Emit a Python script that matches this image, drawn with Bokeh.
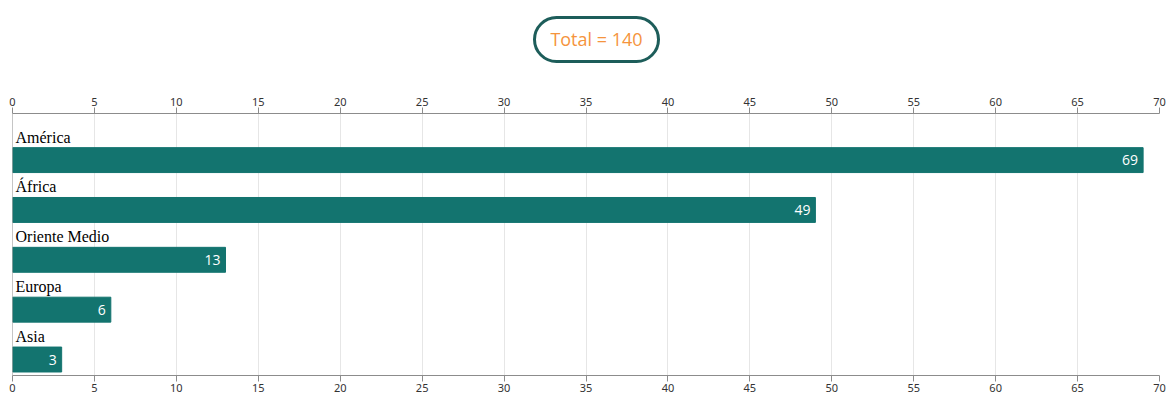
from bokeh.plotting import figure
from bokeh.models import ColumnDataSource, FactorRange, Range1d, LinearAxis, SingleIntervalTicker, Span, Div
from bokeh.transform import dodge
from bokeh.layouts import column
from bokeh.core.properties import value
from bokeh.embed import file_html
from bokeh.resources import INLINE

# ---- data ----
regions = ["América", "África", "Oriente Medio", "Europa", "Asia"]
counts = [69, 49, 13, 6, 3]
total_text = f"Total = {sum(counts)}"

BAR = "#13746f"
AXIS = "#8c8c8c"
GRID = "#e6e6e6"

source = ColumnDataSource(dict(region=regions, count=counts, label=[str(c) for c in counts]))

p = figure(
    y_range=FactorRange(factors=regions[::-1], range_padding=0.1275, range_padding_units="absolute"),
    x_range=Range1d(0, 70),
    frame_width=1147, frame_height=262,
    min_border_left=12, min_border_right=8, min_border_top=0, min_border_bottom=0,
    x_axis_location="above",
    output_backend="svg", toolbar_location=None,
)
p.outline_line_color = None
p.background_fill_color = "white"
p.border_fill_color = "white"

p.add_layout(LinearAxis(), "below")
for ax in p.xaxis:
    ax.ticker = SingleIntervalTicker(interval=5, num_minor_ticks=0)
    ax.axis_line_color = AXIS
    ax.major_tick_line_color = AXIS
    ax.major_tick_in = 0
    ax.major_tick_out = 6
    ax.minor_tick_line_color = None
    ax.major_label_standoff = 2
    ax.major_label_text_font = "Noto Sans"
    ax.major_label_text_font_size = "11px"
    ax.major_label_text_color = "#333333"

p.yaxis.visible = False
p.ygrid.visible = False
p.xgrid.ticker = SingleIntervalTicker(interval=5, num_minor_ticks=0)
p.xgrid.grid_line_color = GRID

p.add_layout(Span(location=0, dimension="height", line_color=AXIS, line_width=1))

BAR_SHIFT = -0.307
p.hbar(y=dodge("region", BAR_SHIFT, range=p.y_range), right="count", left=0, height=0.5,
       source=source, fill_color=BAR, line_color=BAR)

p.text(x=0, y=dodge("region", 0.155, range=p.y_range), text="region", source=source,
       x_offset=3, text_align="left", text_baseline="middle",
       text_font=value("Liberation Serif"), text_font_size="16px", text_color="black")

p.text(x="count", y=dodge("region", BAR_SHIFT, range=p.y_range), text="label", source=source,
       x_offset=-5, text_align="right", text_baseline="middle",
       text_font=value("Open Sans"), text_font_size="14px", text_color="white")

pill = Div(
    text=f'<div style="position:absolute; left:528px; top:11px; width:127px; height:47px; '
         f'box-sizing:border-box; border:3px solid #1d5d5a; border-radius:24px; '
         f'text-align:center; line-height:41px; color:#f5943d; font-family:\'Open Sans\'; '
         f'font-size:18px;">{total_text}</div>',
    width=1167, height=84,
    styles={"position": "relative"},
)

layout = column(pill, p, spacing=0)
open("out.html", "w").write(file_html(layout, INLINE))
